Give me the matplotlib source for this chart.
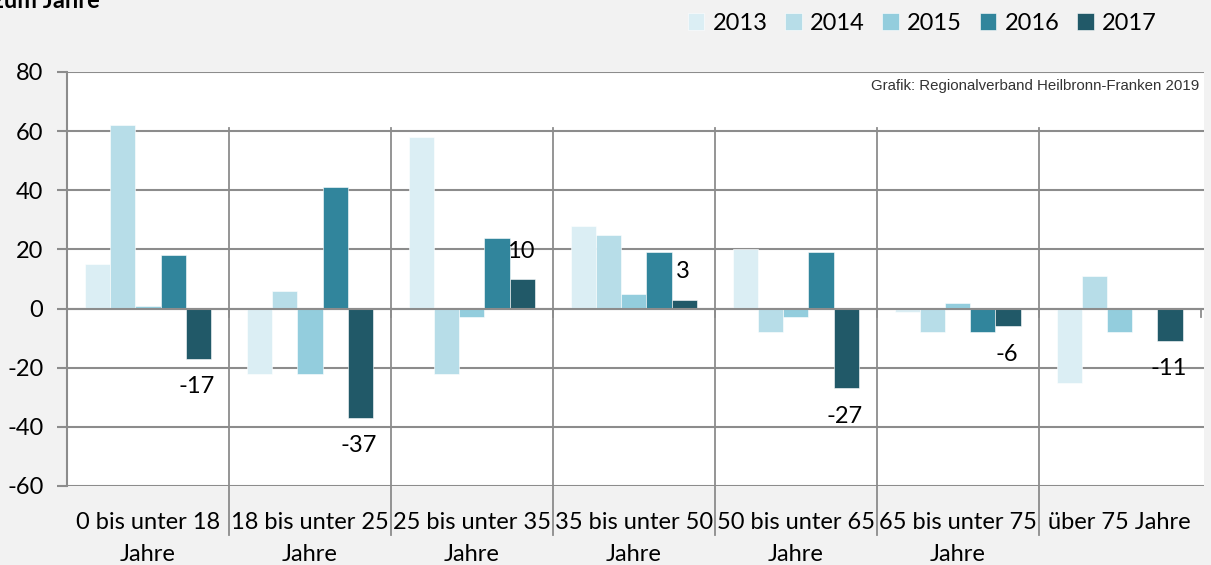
import matplotlib
matplotlib.use("Agg")
import matplotlib.pyplot as plt
import matplotlib.transforms as mtransforms
import numpy as np

plt.rcParams["font.family"] = ["Lato", "DejaVu Sans"]
plt.rcParams["axes.unicode_minus"] = False

categories = [
    "0 bis unter 18\nJahre",
    "18 bis unter 25\nJahre",
    "25 bis unter 35\nJahre",
    "35 bis unter 50\nJahre",
    "50 bis unter 65\nJahre",
    "65 bis unter 75\nJahre",
    "über 75 Jahre",
]
years = ["2013", "2014", "2015", "2016", "2017"]
v2013 = [15, -22, 58, 28, 20, -1, -25]
v2014 = [62, 6, -22, 25, -8, -8, 11]
v2015 = [1, -22, -3, 5, -3, 2, -8]
v2016 = [18, 41, 24, 19, 19, -8, 0]
v2017 = [-17, -37, 10, 3, -27, -6, -11]
series = [v2013, v2014, v2015, v2016, v2017]
colors = ["#dbeef4", "#b7dde8", "#93cddd", "#31859c", "#215968"]

grid_col = "#8c8c8c"
bg = "#f2f2f2"
fs = 17

fig = plt.figure(figsize=(12.11, 5.65), dpi=100, facecolor=bg)
ax = fig.add_axes([67 / 1211, 1 - 486 / 565, (1204 - 67) / 1211, (486 - 72) / 565])
ax.set_facecolor("white")

n = len(categories)
x = np.arange(n)
width = 0.155
for i, (vals, col, yr) in enumerate(zip(series, colors, years)):
    pos = x + (i - 2) * width
    ax.bar(pos, vals, width=width, color=col, edgecolor="white", linewidth=0.4,
           label=yr, zorder=3)

# data labels for last year
for xi, v in zip(x + 2 * width, v2017):
    off = 20 if v > 0 else -20
    ax.annotate(str(v), (xi, v), xytext=(-1, off), textcoords="offset points",
                ha="center", va="center", fontsize=fs, zorder=5)

ax.set_xlim(-0.5, n - 0.5 + 0.02)
ax.set_ylim(-60, 80)
ax.set_yticks(np.arange(-60, 81, 20))
ax.tick_params(axis="y", length=7, width=1.5, color=grid_col, labelsize=fs, pad=10)
ax.tick_params(axis="x", length=0, labelsize=fs, pad=19)
ax.set_xticks(x)
ax.set_xticklabels(categories, linespacing=1.6)
for t in ax.get_xticklabels():
    t.set_verticalalignment("top")

ax.grid(axis="y", color=grid_col, linewidth=1.5, zorder=1)
ax.axhline(0, color=grid_col, linewidth=1.5, zorder=4)
for s in ["top", "right", "bottom"]:
    ax.spines[s].set_visible(False)
ax.spines["left"].set_color(grid_col)
ax.spines["left"].set_linewidth(1.5)

# category separators
trans = mtransforms.blended_transform_factory(ax.transData, ax.transAxes)
for b in np.arange(0.5, n - 1, 1.0):
    ax.plot([b, b], [0.864, -0.118], transform=trans, color=grid_col,
            linewidth=1.3, clip_on=False, zorder=2)
for b in np.arange(0.5, n, 1.0):
    ax.plot([b, b], [0, -3], color=grid_col, linewidth=1.3, clip_on=False, zorder=4)

ax.text(0.996, 0.965, "Grafik: Regionalverband Heilbronn-Franken 2019",
        transform=ax.transAxes, ha="right", va="center", fontsize=10.8,
        family="Liberation Sans", color="#333333")

leg = fig.legend(loc="center right", bbox_to_anchor=(1178 / 1211, 1 - 23 / 565),
                 ncol=5, frameon=False, fontsize=fs, handlelength=0.7,
                 handleheight=0.7, handletextpad=0.35, columnspacing=0.75)

fig.text(-0.006, 1 - 1 / 565, "zum Jahre", ha="left", va="center",
         fontsize=17, fontweight="bold")

fig.savefig("out.png", dpi=100, facecolor=bg)
